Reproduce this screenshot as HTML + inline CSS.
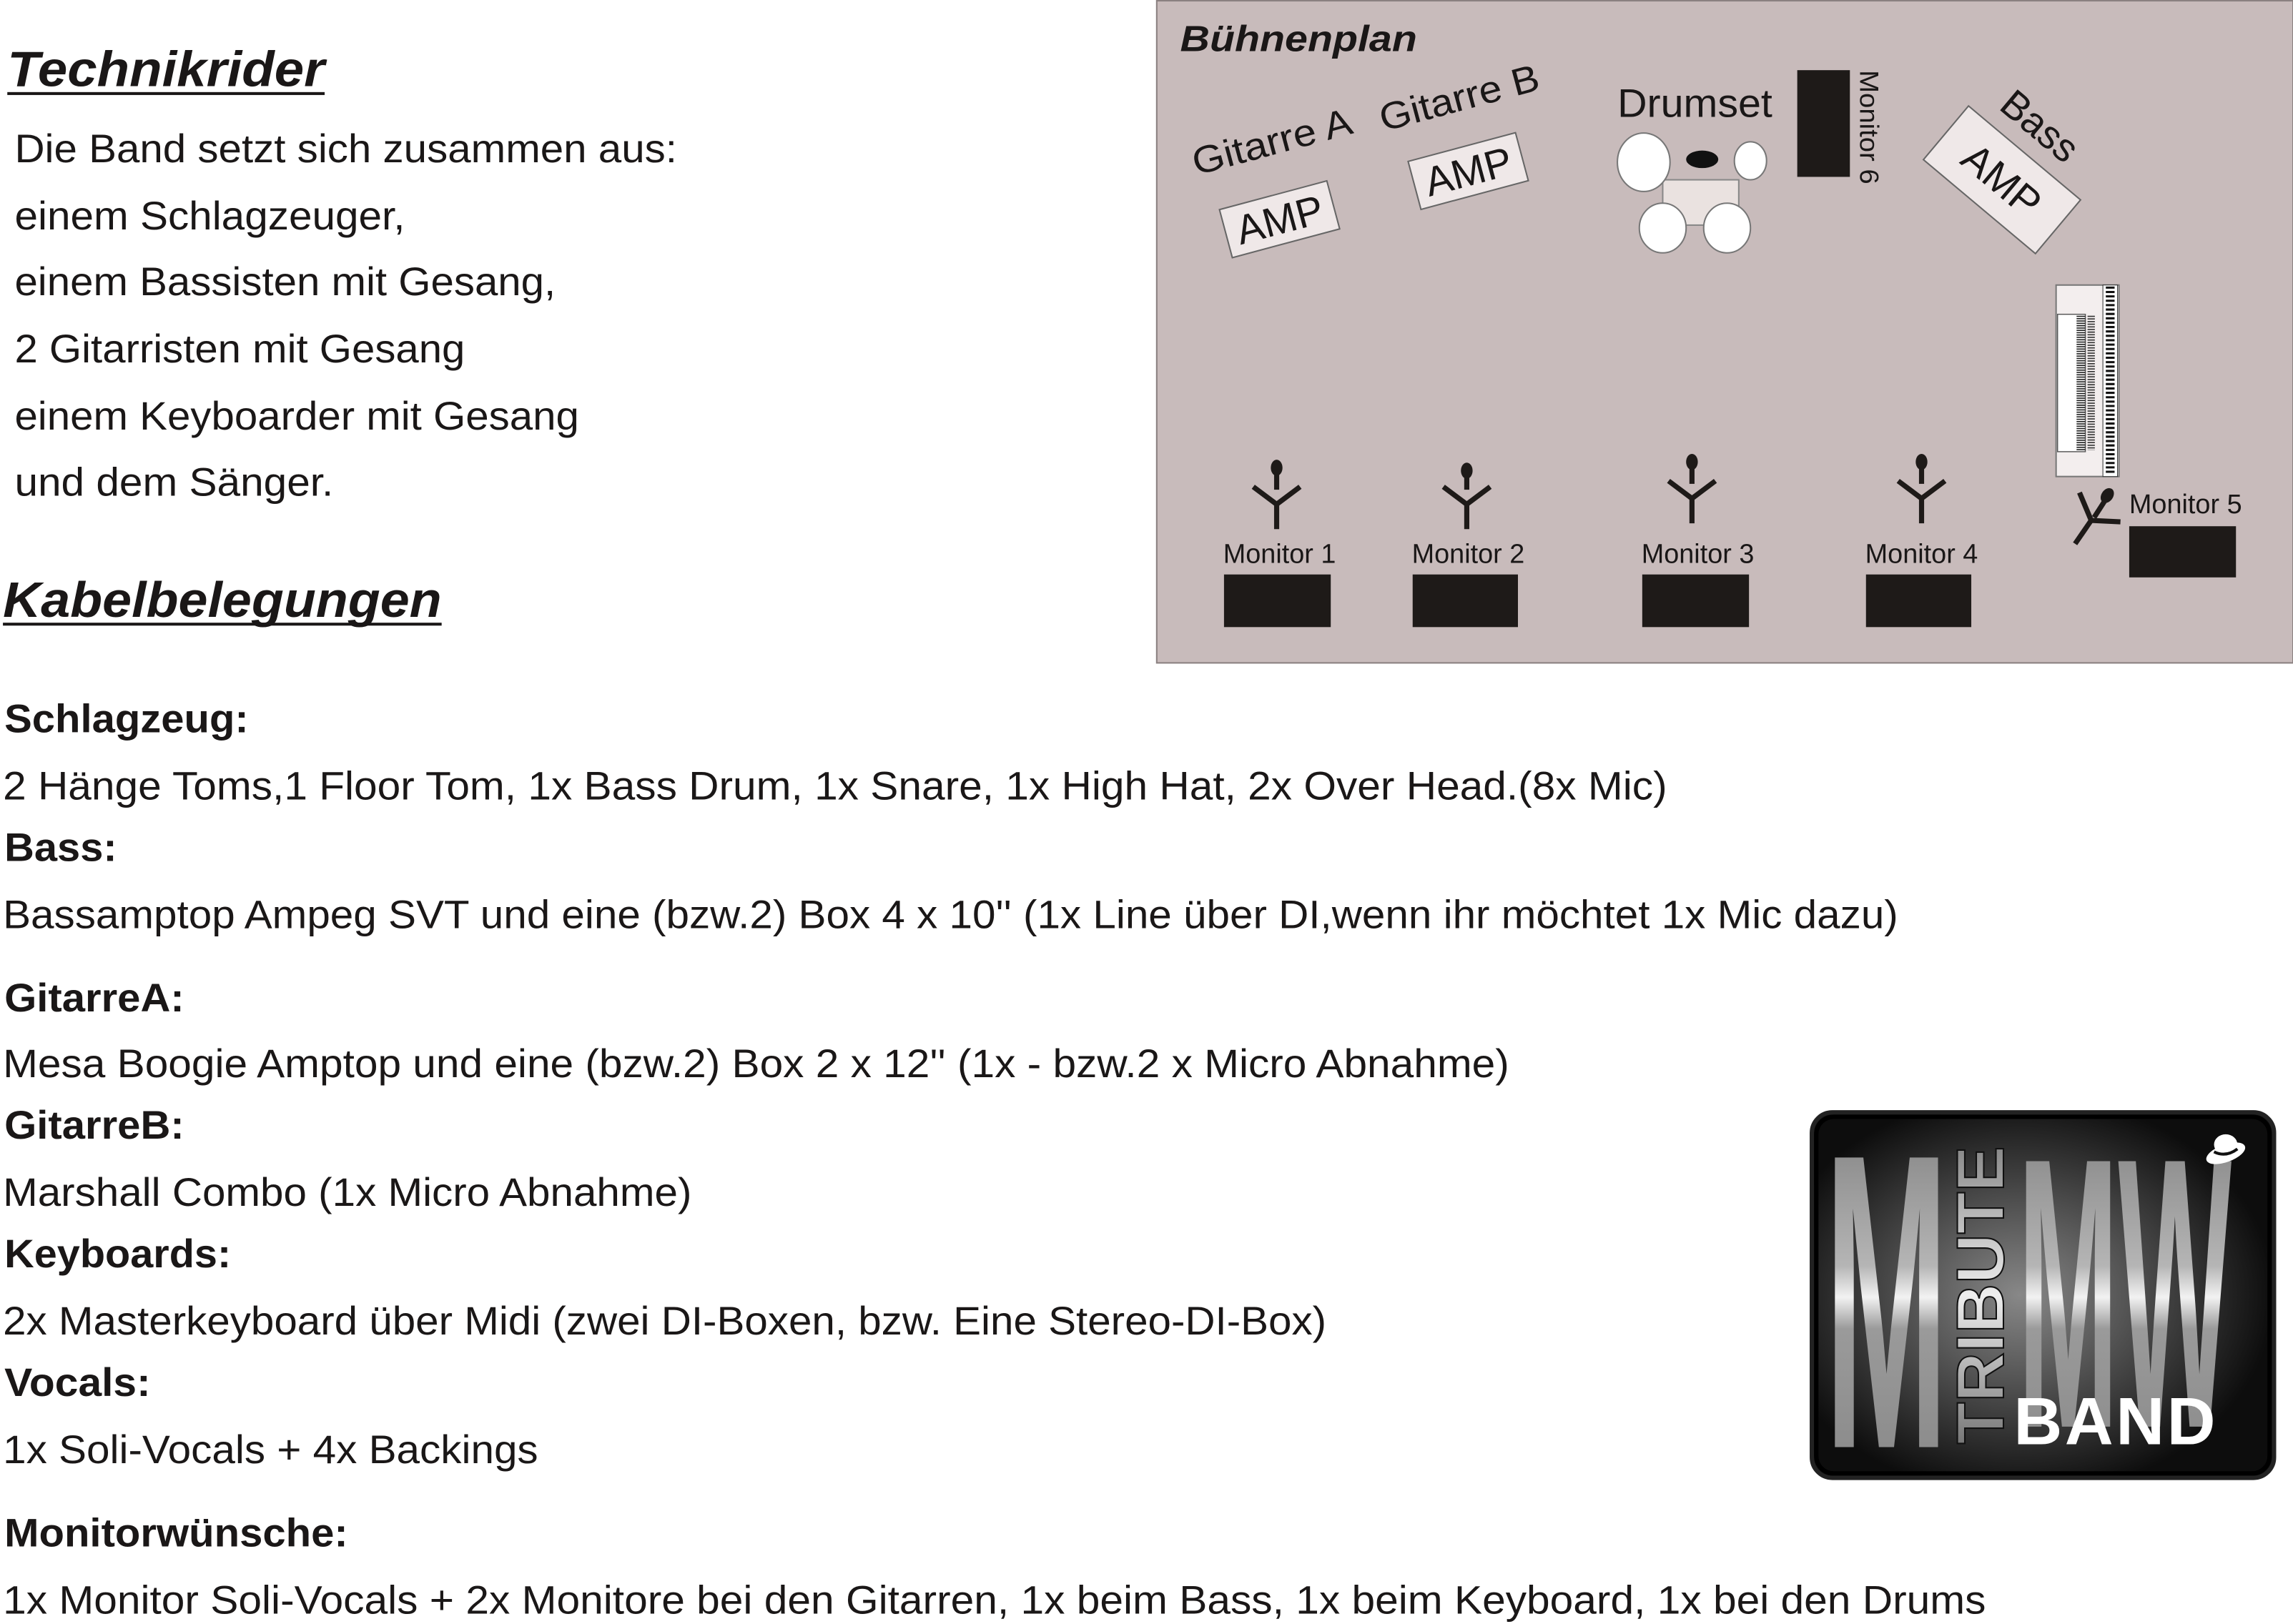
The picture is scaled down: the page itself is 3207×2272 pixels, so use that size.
<!DOCTYPE html>
<html><head><meta charset="utf-8"><style>
html,body{margin:0;padding:0;background:#fff;}
svg{display:block;}
text{font-family:"Liberation Sans",Arial,sans-serif;fill:#1a1717;}
</style></head><body>
<svg width="3207" height="2272" viewBox="0 0 1568 1111" preserveAspectRatio="none" xmlns="http://www.w3.org/2000/svg">
<defs>
<linearGradient id="mg" gradientUnits="userSpaceOnUse" x1="0" y1="780" x2="0" y2="995">
<stop offset="0" stop-color="#8a8a8a"/><stop offset="0.4" stop-color="#b5b5b5"/><stop offset="0.5" stop-color="#f2f2f2"/><stop offset="0.6" stop-color="#9a9a9a"/><stop offset="1" stop-color="#8c8c8c"/>
</linearGradient>
<linearGradient id="tg" x1="0" y1="0" x2="1" y2="0">
<stop offset="0" stop-color="#777"/><stop offset="0.5" stop-color="#eee"/><stop offset="1" stop-color="#888"/>
</linearGradient>
<radialGradient id="bgg" cx="0.45" cy="0.5" r="0.55">
<stop offset="0" stop-color="#888"/><stop offset="1" stop-color="#0d0d0d"/>
</radialGradient>
</defs>

<text x="5" y="59" font-size="34" font-weight="bold" font-style="italic" textLength="217" lengthAdjust="spacingAndGlyphs">Technikrider</text>
<rect x="5" y="63" width="217" height="2" fill="#1a1717"/>
<g font-size="27">
<text x="10" y="111" textLength="453" lengthAdjust="spacingAndGlyphs">Die Band setzt sich zusammen aus:</text>
<text x="10" y="157" textLength="267" lengthAdjust="spacingAndGlyphs">einem Schlagzeuger,</text>
<text x="10" y="202" textLength="370" lengthAdjust="spacingAndGlyphs">einem Bassisten mit Gesang,</text>
<text x="10" y="248" textLength="308" lengthAdjust="spacingAndGlyphs">2 Gitarristen mit Gesang</text>
<text x="10" y="294" textLength="386" lengthAdjust="spacingAndGlyphs">einem Keyboarder mit Gesang</text>
<text x="10" y="339" textLength="218" lengthAdjust="spacingAndGlyphs">und dem Sänger.</text>
</g>
<text x="2" y="422" font-size="34" font-weight="bold" font-style="italic" textLength="300" lengthAdjust="spacingAndGlyphs">Kabelbelegungen</text>
<rect x="2" y="426" width="300" height="2" fill="#1a1717"/>

<g font-size="27">
<text x="3" y="501" font-weight="bold" textLength="167" lengthAdjust="spacingAndGlyphs">Schlagzeug:</text>
<text x="2" y="547" textLength="1138" lengthAdjust="spacingAndGlyphs">2 Hänge Toms,1 Floor Tom, 1x Bass Drum, 1x Snare, 1x High Hat, 2x Over Head.(8x Mic)</text>
<text x="3" y="589" font-weight="bold" textLength="77" lengthAdjust="spacingAndGlyphs">Bass:</text>
<text x="2" y="635" textLength="1296" lengthAdjust="spacingAndGlyphs">Bassamptop Ampeg SVT und eine (bzw.2) Box 4 x 10'' (1x Line über DI,wenn ihr möchtet 1x Mic dazu)</text>
<text x="3" y="692" font-weight="bold" textLength="123" lengthAdjust="spacingAndGlyphs">GitarreA:</text>
<text x="2" y="737" textLength="1030" lengthAdjust="spacingAndGlyphs">Mesa Boogie Amptop und eine (bzw.2) Box 2 x 12'' (1x - bzw.2 x Micro Abnahme)</text>
<text x="3" y="779" font-weight="bold" textLength="123" lengthAdjust="spacingAndGlyphs">GitarreB:</text>
<text x="2" y="825" textLength="471" lengthAdjust="spacingAndGlyphs">Marshall Combo (1x Micro Abnahme)</text>
<text x="3" y="867" font-weight="bold" textLength="155" lengthAdjust="spacingAndGlyphs">Keyboards:</text>
<text x="2" y="913" textLength="905" lengthAdjust="spacingAndGlyphs">2x Masterkeyboard über Midi (zwei DI-Boxen, bzw. Eine Stereo-DI-Box)</text>
<text x="3" y="955" font-weight="bold" textLength="100" lengthAdjust="spacingAndGlyphs">Vocals:</text>
<text x="2" y="1001" textLength="366" lengthAdjust="spacingAndGlyphs">1x Soli-Vocals + 4x Backings</text>
<text x="3" y="1058" font-weight="bold" textLength="235" lengthAdjust="spacingAndGlyphs">Monitorwünsche:</text>
<text x="2" y="1104" textLength="1356" lengthAdjust="spacingAndGlyphs">1x Monitor Soli-Vocals + 2x Monitore bei den Gitarren, 1x beim Bass, 1x  beim Keyboard, 1x bei den Drums</text>
</g>

<!-- Stage plan -->
<rect x="791" y="0.5" width="777" height="453" fill="#c8bbbb" stroke="#8a8080" stroke-width="1"/>
<text x="807" y="35" font-size="25" font-weight="bold" font-style="italic" textLength="162" lengthAdjust="spacingAndGlyphs">Bühnenplan</text>
<text x="0" y="0" font-size="26" transform="translate(818,120) rotate(-15)" textLength="112" lengthAdjust="spacingAndGlyphs">Gitarre A</text>
<text x="0" y="0" font-size="26" transform="translate(946,90) rotate(-15)" textLength="112" lengthAdjust="spacingAndGlyphs">Gitarre B</text>
<g transform="translate(875,150) rotate(-15)">
<rect x="-38" y="-17" width="76" height="34" fill="#efe8e8" stroke="#666" stroke-width="1"/>
<text x="0" y="10" font-size="28" text-anchor="middle">AMP</text></g>
<g transform="translate(1004,117) rotate(-15)">
<rect x="-38" y="-17" width="76" height="34" fill="#efe8e8" stroke="#666" stroke-width="1"/>
<text x="0" y="10" font-size="28" text-anchor="middle">AMP</text></g>
<text x="1106" y="80" font-size="27" textLength="106" lengthAdjust="spacingAndGlyphs">Drumset</text>
<rect x="1137" y="123" width="52" height="31" fill="#eae2e0" stroke="#888" stroke-width="1"/>
<ellipse cx="1124" cy="111" rx="18" ry="20" fill="#fff" stroke="#777" stroke-width="1"/>
<ellipse cx="1164" cy="109" rx="11" ry="6" fill="#111"/>
<ellipse cx="1197" cy="110" rx="11" ry="13" fill="#fff" stroke="#777" stroke-width="1"/>
<ellipse cx="1137" cy="156" rx="16" ry="17" fill="#fff" stroke="#777" stroke-width="1"/>
<ellipse cx="1181" cy="156" rx="16" ry="17" fill="#fff" stroke="#777" stroke-width="1"/>
<rect x="1229" y="48" width="36" height="73" fill="#1e1a18"/>
<text x="0" y="0" font-size="18" transform="translate(1272,48) rotate(90)" textLength="78" lengthAdjust="spacingAndGlyphs">Monitor 6</text>
<text x="0" y="0" font-size="27" transform="translate(1366,74) rotate(40)">Bass</text>
<g transform="translate(1369,123) rotate(40)">
<rect x="-50" y="-24" width="100" height="48" fill="#efe8e8" stroke="#666" stroke-width="1"/>
<text x="0" y="10" font-size="28" text-anchor="middle">AMP</text></g>
<!-- keyboard -->
<rect x="1406" y="195" width="43" height="131" fill="#f3eeee" stroke="#777" stroke-width="1"/>
<rect x="1438" y="195" width="10" height="131" fill="#fff" stroke="#333" stroke-width="0.5"/>
<line x1="1443" y1="196" x2="1443" y2="325" stroke="#111" stroke-width="6" stroke-dasharray="1.5 1.5"/>
<rect x="1407" y="215" width="19" height="94" fill="#fff" stroke="#555" stroke-width="0.7"/>
<line x1="1423" y1="216" x2="1423" y2="308" stroke="#222" stroke-width="6" stroke-dasharray="0.8 0.8"/>
<line x1="1430" y1="216" x2="1430" y2="308" stroke="#333" stroke-width="5" stroke-dasharray="0.8 1"/>
<!-- mics -->
<g fill="#1e1a18" stroke="#1e1a18" stroke-width="3.5">
<g transform="translate(873,0)"><ellipse cx="0" cy="320" rx="4" ry="5.5" stroke="none"/><line x1="0" y1="320" x2="0" y2="335"/><polyline points="-16,333 0,345 16,333" fill="none"/><line x1="0" y1="345" x2="0" y2="362"/></g>
<g transform="translate(1003,0)"><ellipse cx="0" cy="322" rx="4" ry="5.5" stroke="none"/><line x1="0" y1="322" x2="0" y2="335"/><polyline points="-16,333 0,345 16,333" fill="none"/><line x1="0" y1="345" x2="0" y2="362"/></g>
<g transform="translate(1157,-4)"><ellipse cx="0" cy="320" rx="4" ry="5.5" stroke="none"/><line x1="0" y1="320" x2="0" y2="335"/><polyline points="-16,333 0,345 16,333" fill="none"/><line x1="0" y1="345" x2="0" y2="362"/></g>
<g transform="translate(1314,-4)"><ellipse cx="0" cy="320" rx="4" ry="5.5" stroke="none"/><line x1="0" y1="320" x2="0" y2="335"/><polyline points="-16,333 0,345 16,333" fill="none"/><line x1="0" y1="345" x2="0" y2="362"/></g>
<ellipse cx="1441" cy="339" rx="4" ry="5.5" stroke="none" transform="rotate(35 1441 339)"/>
<line x1="1441" y1="340" x2="1432" y2="354"/>
<polyline points="1422,337 1430,356 1450,357" fill="none"/>
<line x1="1430" y1="356" x2="1419" y2="372"/>
</g>
<g font-size="18.5" text-anchor="middle">
<text x="875" y="385">Monitor 1</text>
<text x="1004" y="385">Monitor 2</text>
<text x="1161" y="385">Monitor 3</text>
<text x="1314" y="385">Monitor 4</text>
</g>
<text x="1456" y="351" font-size="18.5">Monitor 5</text>
<g fill="#1e1a18">
<rect x="837" y="393" width="73" height="36"/>
<rect x="966" y="393" width="72" height="36"/>
<rect x="1123" y="393" width="73" height="36"/>
<rect x="1276" y="393" width="72" height="36"/>
<rect x="1456" y="360" width="73" height="35"/>
</g>

<!-- Logo -->
<rect x="1239" y="761" width="316" height="250" rx="14" fill="url(#bgg)" stroke="#222" stroke-width="3"/>
<rect x="1242" y="764" width="310" height="244" rx="12" fill="none" stroke="#000" stroke-width="3"/>
<g font-weight="bold" font-family="Liberation Sans Narrow, Liberation Sans, sans-serif">
<text x="1248" y="990" font-size="288" textLength="84" lengthAdjust="spacingAndGlyphs" style="fill:url(#mg)">M</text>
<text x="1380" y="976" font-size="264" textLength="146" lengthAdjust="spacingAndGlyphs" style="fill:url(#mg)">MW</text>
<text x="0" y="0" font-size="46" transform="translate(1370,988) rotate(-90)" textLength="204" lengthAdjust="spacingAndGlyphs" style="fill:url(#tg);stroke:#111;stroke-width:1">TRIBUTE</text>
<text x="1377" y="988" font-size="46" textLength="138" lengthAdjust="spacing" style="fill:#fff">BAND</text>
</g>
<ellipse cx="1522" cy="789" rx="14" ry="6" fill="#fff" transform="rotate(-20 1522 789)"/>
<ellipse cx="1522" cy="783" rx="8" ry="7" fill="#fff"/>
<path d="M1514 788 Q1522 792 1530 786" stroke="#111" stroke-width="2" fill="none"/>
</svg>
</body></html>
